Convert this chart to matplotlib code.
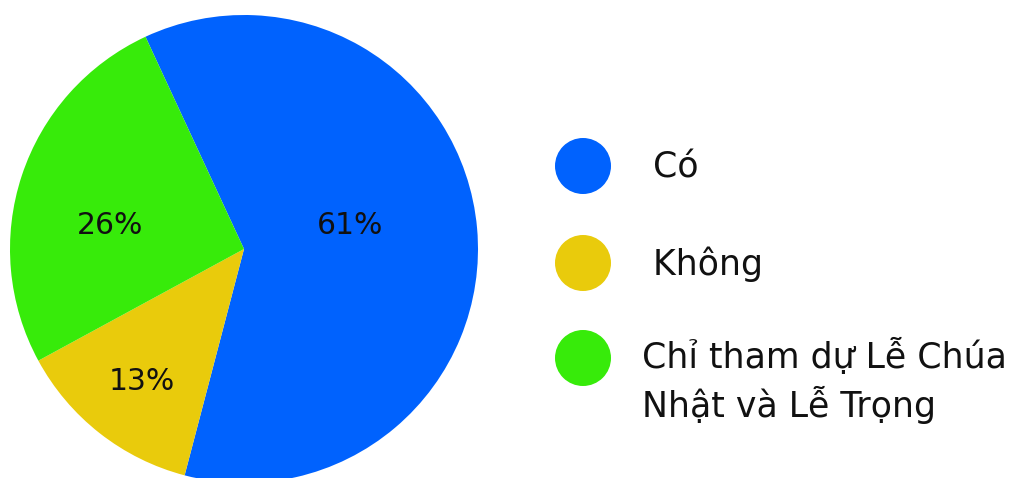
"""Pie chart: participation share with a hand-drawn circle legend."""

import matplotlib

matplotlib.use("Agg")
import matplotlib.pyplot as plt
from matplotlib.patches import Circle

# data
categories = [" Có", " Không", "Chỉ tham dự Lễ Chúa\nNhật và Lễ Trọng"]
shares = [61, 13, 26]
pct_labels = ["61%", "13%", "26%"]
colors = ["#0062FE", "#E9CB0C", "#37EB0A"]

plt.rcParams["font.family"] = ["DejaVu Sans"]

W, H = 1012, 478
fig = plt.figure(figsize=(W / 100, H / 100), dpi=100)
fig.patch.set_facecolor("white")

# pie axes: centre ~(244, 249) px, radius ~234 px
cx, cy, r = 244, 249, 234
ax = fig.add_axes([(cx - r) / W, (H - cy - r) / H, 2 * r / W, 2 * r / H])
wedges, _ = ax.pie(
    shares,
    colors=colors,
    startangle=114.9,
    counterclock=False,
    radius=1,
    wedgeprops={"linewidth": 0},
)
ax.set_xlim(-1, 1)
ax.set_ylim(-1, 1)
ax.set_aspect("equal")
ax.axis("off")

# percentage labels, placed where the reference puts them (in pie units)
label_pos = [(0.453, 0.10), (-0.436, -0.568), (-0.573, 0.10)]
for (x, y), txt in zip(label_pos, pct_labels):
    ax.text(x, y, txt, ha="center", va="center", fontsize=21.5,
            color="#111111")

# legend drawn in pixel space
lax = fig.add_axes([0, 0, 1, 1])
lax.set_xlim(0, W)
lax.set_ylim(H, 0)
lax.axis("off")
marker_y = [166, 263, 358]
baseline_y = [178, 275, 368]
for my, by, col, lab in zip(marker_y, baseline_y, colors, categories):
    lax.add_patch(Circle((583, my), 28, color=col, lw=0))
    # first line sits on the baseline; extra lines flow below it
    first, *rest = lab.split("\n")
    lax.text(642, by, first, ha="left", va="baseline", fontsize=25,
             color="#111111")
    for k, line in enumerate(rest, start=1):
        lax.text(642, by + 49 * k, line, ha="left", va="baseline",
                 fontsize=25, color="#111111")

fig.savefig("out.png", dpi=100)
